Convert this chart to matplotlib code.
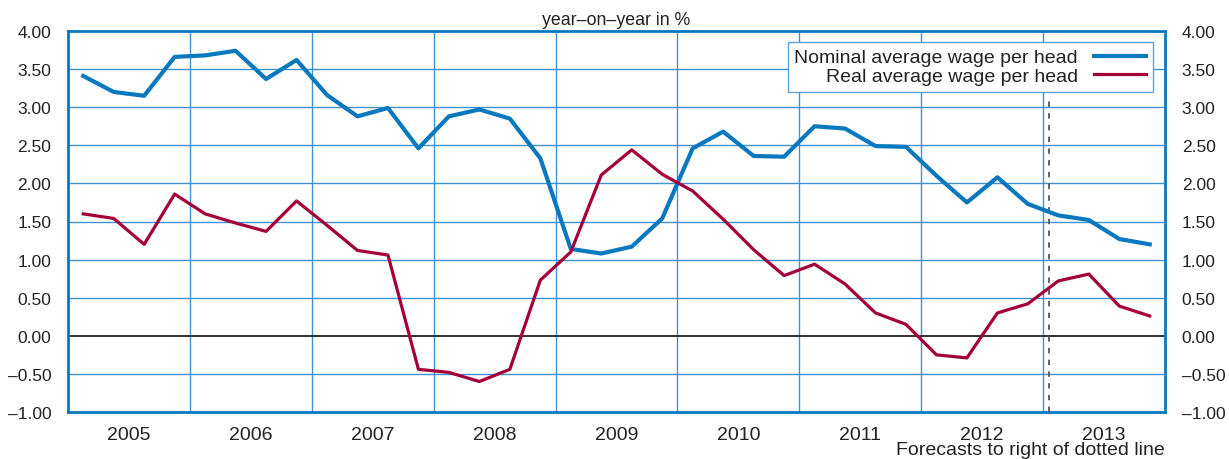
import numpy as np
import matplotlib
matplotlib.use("Agg")
import matplotlib.pyplot as plt
from matplotlib.ticker import FixedLocator, FuncFormatter

plt.rcParams["font.family"] = ["Liberation Sans", "DejaVu Sans"]
plt.rcParams["font.size"] = 12

# quarterly data, 2005 Q1 .. 2013 Q4
years = list(range(2005, 2014))
nominal = [3.41, 3.20, 3.15, 3.66, 3.68, 3.74, 3.37, 3.62,
           3.16, 2.88, 2.99, 2.46, 2.88, 2.97, 2.85, 2.33,
           1.14, 1.08, 1.17, 1.54, 2.46, 2.68, 2.36, 2.35,
           2.75, 2.72, 2.49, 2.48, 2.10, 1.75, 2.08, 1.73,
           1.58, 1.52, 1.27, 1.20]
real = [1.60, 1.54, 1.20, 1.86, 1.60, 1.48, 1.37, 1.77,
        1.45, 1.12, 1.06, -0.44, -0.48, -0.60, -0.44, 0.73,
        1.10, 2.11, 2.44, 2.12, 1.90, 1.53, 1.13, 0.79,
        0.94, 0.68, 0.30, 0.15, -0.25, -0.29, 0.30, 0.42,
        0.72, 0.81, 0.39, 0.26]
forecast_start = 2013.045
y_ticks = [-1.0, -0.5, 0.0, 0.5, 1.0, 1.5, 2.0, 2.5, 3.0, 3.5, 4.0]

blue = "#0a78bf"
red = "#a3003a"
grid_col = "#3f93d2"
txt = "#222222"

x = np.array([y + (q - 0.5) / 4 for y in years for q in range(1, 5)])

fig = plt.figure(figsize=(12.29, 4.6), dpi=100)
ax = fig.add_axes([68 / 1229, 47 / 460, 1097 / 1229, 381 / 460])

ax.set_xlim(years[0], years[-1] + 1)
ax.set_ylim(-1, 4)

# grid
for yv in y_ticks[1:-1]:
    if yv == 0:
        ax.axhline(0, color=txt, lw=1.3, zorder=2)
    else:
        ax.axhline(yv, color=grid_col, lw=1.0, zorder=1)
for yr in years[1:]:
    ax.axvline(yr, color=grid_col, lw=1.0, zorder=1)

ax.vlines(forecast_start, -1, 3.1, color="#555555", lw=1.3,
          linestyles=(0, (3, 3.5)), zorder=3)

ax.plot(x, nominal, color=blue, lw=3.0, label="Nominal average wage per head", zorder=4)
ax.plot(x, real, color=red, lw=2.3, label="Real average wage per head", zorder=4)

for s in ax.spines.values():
    s.set_color(blue)
    s.set_linewidth(2.0)

fmt = FuncFormatter(lambda v, p: ("%.2f" % v).replace("-", "\u2013"))
ax.yaxis.set_major_locator(FixedLocator(y_ticks))
ax.yaxis.set_major_formatter(fmt)
ax.tick_params(axis="y", length=0, pad=12, labelsize=12.5, labelright=True,
               right=False, colors=txt)

ax.xaxis.set_major_locator(FixedLocator([y + 0.5 for y in years]))
ax.set_xticklabels([str(y) for y in years])
ax.tick_params(axis="x", length=0, pad=10, labelsize=14, colors=txt)

ax.set_title("year\u2013on\u2013year in %", fontsize=12.8, pad=5, color=txt)
fig.text(1165 / 1229, 1 / 460, "Forecasts to right of dotted line",
         ha="right", va="bottom", fontsize=14, color=txt)

leg = ax.legend(loc="upper right", bbox_to_anchor=(0.989, 0.971), borderaxespad=0,
                markerfirst=False, fancybox=False, handlelength=2.7,
                fontsize=14, framealpha=1, borderpad=0.35, labelspacing=0.05)
leg.get_frame().set_edgecolor("#5aa3d8")
leg.get_frame().set_linewidth(1.0)
leg._legend_box.align = "right"
for t in leg.get_texts():
    t.set_ha("right")
    t.set_color(txt)

fig.savefig("out.png", dpi=100)
